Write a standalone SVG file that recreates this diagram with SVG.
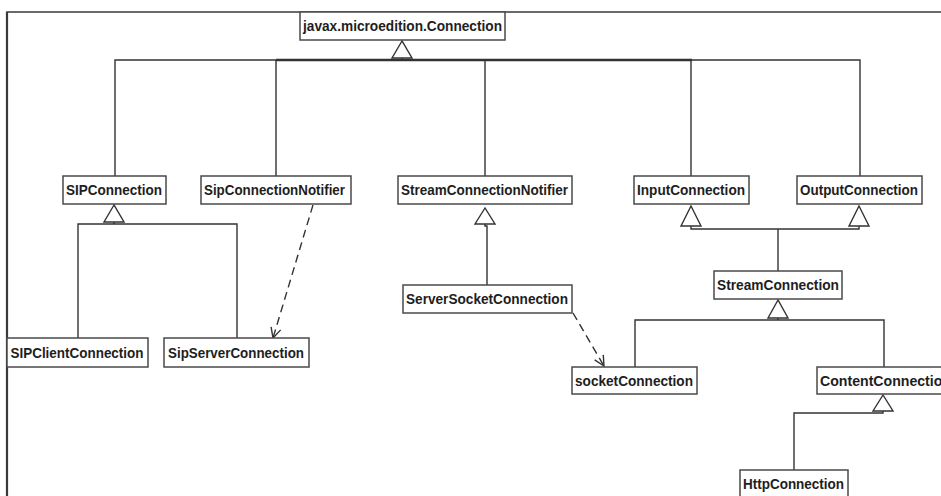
<svg xmlns="http://www.w3.org/2000/svg" width="941" height="496" viewBox="0 0 941 496">
<defs>
<style>
.box{fill:#fff;stroke:#4a4a4a;stroke-width:1.5}
.lbl{font-family:"Liberation Sans",Arial,sans-serif;font-weight:bold;font-size:14.6px;fill:#1e1e1e}
.ln{fill:none;stroke:#333;stroke-width:1.4}
.dash{fill:none;stroke:#333;stroke-width:1.4;stroke-dasharray:8,5}
.tri{fill:#fff;stroke:#333;stroke-width:1.4}
.frame{fill:none;stroke:#3a3a3a;stroke-width:1.6}
</style>
<marker id="open" viewBox="0 0 12 12" refX="11" refY="6" markerWidth="12" markerHeight="12" markerUnits="userSpaceOnUse" orient="auto">
<path d="M1,1 L11,6 L1,11" fill="none" stroke="#333" stroke-width="1.4"/>
</marker>
</defs>
<rect width="941" height="496" fill="#fff"/>
<path class="frame" d="M7,496 V12 H941"/>
<line x1="7" y1="12" x2="7" y2="496" stroke="#3a3a3a" stroke-width="2.2"/>

<g id="connectors">
<path class="ln" d="M115,176 V60 H860 V176"/>
<path class="ln" d="M276,176 V60"/>
<path class="ln" d="M485,176 V60"/>
<path class="ln" d="M691,176 V60"/>
<line x1="276" y1="60" x2="692" y2="60" stroke="#333" stroke-width="2.4"/>
<line x1="402" y1="58" x2="402" y2="60" stroke="#333" stroke-width="1.4"/>
<polygon class="tri" points="402,41 392,58 412,58"/>
<path class="ln" d="M78,338 V224 H237 V338"/>
<line class="ln" x1="114" y1="222" x2="114" y2="224"/>
<polygon class="tri" points="114,205 104,222 124,222"/>
<path class="ln" d="M487,285 V226 H485 V224"/>
<polygon class="tri" points="485,208 475,224 495,224"/>
<path class="ln" d="M691,226 V229 H859 V226"/>
<path class="ln" d="M778,229 V271"/>
<polygon class="tri" points="691,206 681,226 701,226"/>
<polygon class="tri" points="859,206 849,226 869,226"/>
<path class="ln" d="M635,367 V320 H884 V367"/>
<line class="ln" x1="778" y1="318" x2="778" y2="320"/>
<polygon class="tri" points="778,300 768,318 788,318"/>
<path class="ln" d="M794,470 V413 H883 V411"/>
<polygon class="tri" points="883,395 873,411 893,411"/>
<line class="dash" x1="313" y1="205" x2="273" y2="338" marker-end="url(#open)"/>
<line class="dash" x1="573" y1="313" x2="604" y2="366" marker-end="url(#open)"/>
</g>

<g id="n-connection">
<rect class="box" x="300" y="12" width="205" height="28"/>
<text class="lbl" x="303" y="31" textLength="199" lengthAdjust="spacingAndGlyphs">javax.microedition.Connection</text>
</g>
<g id="n-sipconnection">
<rect class="box" x="63" y="176" width="103" height="28"/>
<text class="lbl" x="66" y="195" textLength="96" lengthAdjust="spacingAndGlyphs">SIPConnection</text>
</g>
<g id="n-sipconnectionnotifier">
<rect class="box" x="201" y="176" width="150" height="28"/>
<text class="lbl" x="204" y="195" textLength="141" lengthAdjust="spacingAndGlyphs">SipConnectionNotifier</text>
</g>
<g id="n-streamconnectionnotifier">
<rect class="box" x="398" y="176" width="174" height="28"/>
<text class="lbl" x="401" y="195" textLength="167" lengthAdjust="spacingAndGlyphs">StreamConnectionNotifier</text>
</g>
<g id="n-inputconnection">
<rect class="box" x="634" y="176" width="115" height="28"/>
<text class="lbl" x="637" y="195" textLength="108" lengthAdjust="spacingAndGlyphs">InputConnection</text>
</g>
<g id="n-outputconnection">
<rect class="box" x="797" y="176" width="125" height="28"/>
<text class="lbl" x="800" y="195" textLength="118" lengthAdjust="spacingAndGlyphs">OutputConnection</text>
</g>
<g id="n-sipclientconnection">
<rect class="box" x="7" y="338" width="141" height="29"/>
<text class="lbl" x="10.5" y="357.5" textLength="133" lengthAdjust="spacingAndGlyphs">SIPClientConnection</text>
</g>
<g id="n-sipserverconnection">
<rect class="box" x="164" y="338" width="145" height="29"/>
<text class="lbl" x="168" y="357.5" textLength="136" lengthAdjust="spacingAndGlyphs">SipServerConnection</text>
</g>
<g id="n-serversocketconnection">
<rect class="box" x="403" y="285" width="169" height="28"/>
<text class="lbl" x="406" y="304" textLength="162" lengthAdjust="spacingAndGlyphs">ServerSocketConnection</text>
</g>
<g id="n-streamconnection">
<rect class="box" x="714" y="271" width="128" height="28"/>
<text class="lbl" x="717" y="290" textLength="122" lengthAdjust="spacingAndGlyphs">StreamConnection</text>
</g>
<g id="n-socketconnection">
<rect class="box" x="572" y="367" width="125" height="27"/>
<text class="lbl" x="575" y="386" textLength="118" lengthAdjust="spacingAndGlyphs">socketConnection</text>
</g>
<g id="n-contentconnection">
<rect class="box" x="817" y="367" width="138" height="27"/>
<text class="lbl" x="820" y="386" textLength="131" lengthAdjust="spacingAndGlyphs">ContentConnection</text>
</g>
<g id="n-httpconnection">
<rect class="box" x="740" y="470" width="108" height="30"/>
<text class="lbl" x="743" y="489" textLength="101" lengthAdjust="spacingAndGlyphs">HttpConnection</text>
</g>
</svg>
